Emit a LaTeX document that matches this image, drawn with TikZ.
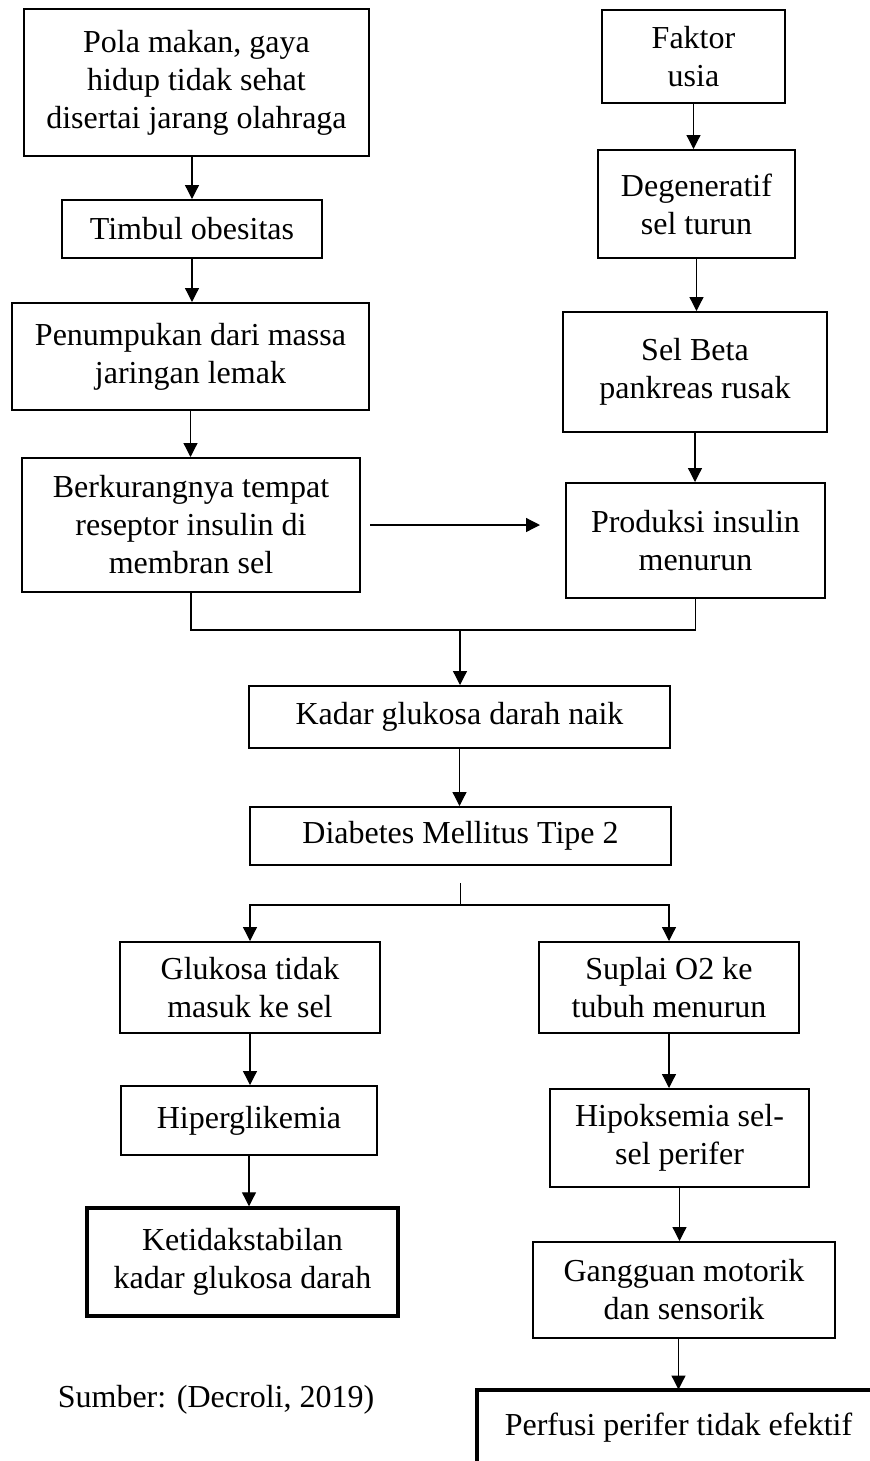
\documentclass[tikz,border=0pt]{standalone}
\usepackage{fontspec}
\setmainfont{Liberation Serif}
\usetikzlibrary{arrows.meta,calc}

\begin{document}
\begin{tikzpicture}[
        x=0.4pt, y=-0.4pt, % pixel grid of the page
        >={Triangle[length=5.6pt,width=5.6pt]},
        box/.style={rectangle, draw=black, line width=0.8pt, align=center, inner sep=2pt, font=\fontsize{12.8}{15.2}\selectfont},
        thickbox/.style={box, line width=1.4pt},
        note/.style={align=center, inner sep=0pt, font=\fontsize{12.8}{15.2}\selectfont},
        connect/.style={draw, ->, black, line width=0.5pt},
        joinline/.style={draw, black, line width=0.5pt}
    ]
    \useasboundingbox (0,0) rectangle (870,1461);

    % ==========================================
    % 1. Left column (lifestyle)
    % ==========================================
    \node[box, minimum width=138pt, minimum height=58.8pt] (pola) at (196.5, 82.5) {Pola makan, gaya\\hidup tidak sehat\\disertai jarang olahraga};
    \node[box, minimum width=104pt, minimum height=23.2pt] (timbul) at (192, 229) {Timbul obesitas};
    \node[box, minimum width=142.8pt, minimum height=42.8pt] (tumpuk) at (190.5, 356.5) {Penumpukan dari massa\\jaringan lemak};
    \node[box, minimum width=135.2pt, minimum height=53.6pt] (reseptor) at (191, 525) {Berkurangnya tempat\\reseptor insulin di\\membran sel};

    \path[connect] (pola.south -| timbul.north) -- (timbul.north);
    \path[connect] (timbul.south) -- (timbul.south |- tumpuk.north);
    \path[connect] (tumpuk.south) -- (tumpuk.south |- reseptor.north);

    % ==========================================
    % 2. Right column (age)
    % ==========================================
    \node[box, minimum width=73.2pt, minimum height=37.2pt] (usia) at (693.5, 56.5) {Faktor\\usia};
    \node[box, minimum width=78.8pt, minimum height=43.2pt] (degen) at (696.5, 204) {Degeneratif\\sel turun};
    \node[box, minimum width=105.6pt, minimum height=48pt] (beta) at (695, 372) {Sel Beta\\pankreas rusak};
    \node[box, minimum width=103.6pt, minimum height=46pt] (produksi) at (695.5, 540.5) {Produksi insulin\\menurun};

    \path[connect] (usia.south) -- (usia.south |- degen.north);
    \path[connect] (degen.south) -- (degen.south |- beta.north);
    \path[connect] (beta.south) -- (beta.south |- produksi.north);
    \path[connect, shorten <=3.6pt, shorten >=10pt] (reseptor.east) -- (reseptor.east -| produksi.west);

    % ==========================================
    % 3. Middle (join)
    % ==========================================
    \node[box, minimum width=168.4pt, minimum height=24.8pt] (kadar) at (459.5, 717) {Kadar glukosa darah naik};
    \node[box, minimum width=168.4pt, minimum height=23.2pt] (dm) at (460.5, 836) {Diabetes Mellitus Tipe 2};

    \coordinate (join) at (460, 630);
    \path[joinline] (reseptor.south) |- (join) -| (produksi.south);
    \path[connect] (join) -- (join |- kadar.north);
    \path[connect] (kadar.south) -- (kadar.south |- dm.north);

    \coordinate (split) at (460.5, 905);
    \path[joinline] (split) -- ++(0,-22);

    % ==========================================
    % 4. Two branches
    % ==========================================
    \node[box, minimum width=104pt, minimum height=36.4pt] (glukosa) at (250, 987.5) {Glukosa tidak\\masuk ke sel};
    \node[box, minimum width=102.4pt, minimum height=27.6pt] (hiper) at (249, 1120.5) {Hiperglikemia};
    \node[thickbox, minimum width=124.4pt, minimum height=43.2pt] (stabil) at (242.5, 1262) {Ketidakstabilan\\kadar glukosa darah};

    \node[box, minimum width=104pt, minimum height=36.4pt] (suplai) at (669, 987.5) {Suplai O2 ke\\tubuh menurun};
    \node[box, minimum width=103.6pt, minimum height=39.2pt] (hipoks) at (679.5, 1138) {Hipoksemia sel-\\sel perifer};
    \node[box, minimum width=120.8pt, minimum height=38.4pt] (motorik) at (684, 1290) {Gangguan motorik\\dan sensorik};
    \node[note, minimum width=161.2pt, minimum height=30pt] (perfusi) at (678.5, 1427.5) {Perfusi perifer tidak efektif};
    \draw[line width=1.6pt] (perfusi.south west) -- (perfusi.north west) -- (perfusi.north east);

    \path[connect] (split) -| (glukosa.north);
    \path[connect] (split) -| (suplai.north);
    \path[connect] (glukosa.south) -- (glukosa.south |- hiper.north);
    \path[connect] (hiper.south) -- (hiper.south |- stabil.north);
    \path[connect] (suplai.south) -- (suplai.south |- hipoks.north);
    \path[connect] (hipoks.south) -- (hipoks.south |- motorik.north);
    \path[connect] (motorik.south -| perfusi.north) -- (perfusi.north);

    % source
    \node[note] (sumber) at (216, 1400) {Sumber: (Decroli, 2019)};

\end{tikzpicture}
\end{document}
